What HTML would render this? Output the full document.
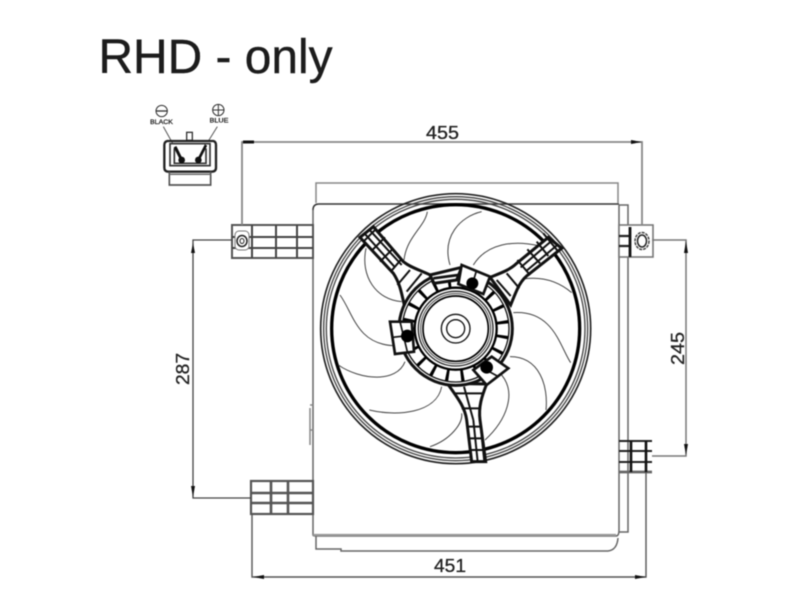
<!DOCTYPE html>
<html><head><meta charset="utf-8"><style>
html,body{margin:0;padding:0;background:#fff;width:800px;height:600px;overflow:hidden}
svg{display:block;filter:blur(.45px)}
text{font-family:"Liberation Sans",sans-serif}
</style></head><body>
<svg width="800" height="600" viewBox="0 0 800 600" xmlns="http://www.w3.org/2000/svg">
<rect width="800" height="600" fill="#fff"/>
<text x="98.500" y="73" font-size="48" fill="#1c1c1c" stroke="#1c1c1c" stroke-width=".4" textLength="234" lengthAdjust="spacingAndGlyphs">RHD - only</text>

<!-- connector -->
<g transform="translate(130,95) scale(.33333)" fill="none" stroke="#333" stroke-width="4">
<circle cx="95" cy="48" r="17" stroke-width="3"/><path d="M78,48H112" stroke-width="4"/>
<circle cx="265" cy="45" r="17" stroke-width="3"/><path d="M248,45H282M265,28V62" stroke-width="3"/>
<path d="M100,95L128,145M262,95L234,140" stroke-width="3" stroke="#555"/>
<rect x="170" y="112" width="17" height="24" stroke-width="4"/>
<path d="M112,138H250Q258,140 258,150V218Q258,230 245,230H115Q103,230 103,218V150Q103,140 112,138Z" stroke-width="7" stroke="#222"/>
<rect x="120" y="146" width="120" height="66" stroke-width="5"/>
<path d="M133,160V205H228V160" stroke-width="5"/>
<path d="M118,230V270H242V230" stroke-width="5" stroke="#555"/>
<path d="M116,238H244" stroke-width="4" stroke="#666"/>
<path d="M135,155L155,195" stroke="#111" stroke-width="9"/>
<path d="M228,150L205,195" stroke="#111" stroke-width="8"/>
<circle cx="155" cy="195" r="10" fill="#111" stroke="none"/>
<circle cx="205" cy="195" r="10" fill="#111" stroke="none"/>
</g>
<text x="161.500" y="124" font-size="6" text-anchor="middle" fill="#111" stroke="#111" stroke-width=".2" textLength="23" lengthAdjust="spacingAndGlyphs">BLACK</text>
<text x="219" y="122.500" font-size="6" text-anchor="middle" fill="#111" stroke="#111" stroke-width=".2" textLength="19" lengthAdjust="spacingAndGlyphs">BLUE</text>

<!-- body -->
<g fill="none" stroke="#666" stroke-width="1.500">
<path d="M316,203V183H618V203" stroke="#888"/>
<path d="M313,210Q313,204 319,204H619" stroke="#333" stroke-width="1.500"/>
<path d="M313,210V535Q313,536 316,536H616Q619,536 619,530V205" stroke-width="1.500"/>
<path d="M313,535H616" stroke="#999" stroke-width="2.200"/>
<path d="M316,536V549H341V551H608Q617,550 618,538" stroke-width="1.500"/>
<path d="M619,205H628V532H619"/>
<path d="M310,405H313M310,445V408M310,430H313" stroke="#888"/>
</g>

<!-- top-left bracket -->
<g fill="none" stroke="#555" stroke-width="2">
<rect x="232" y="225" width="81" height="33" fill="#fff"/>
<path d="M232,237H313M232,248H313M252,225V258M276,225V258M297,225V258" stroke="#444"/>
<rect x="235" y="231" width="14" height="19" rx="4" fill="#fff" stroke="#777" stroke-width="1"/>
<ellipse cx="242" cy="241" rx="5" ry="5.500" stroke="#222" stroke-width="1.500"/>
<ellipse cx="242" cy="241" rx="2" ry="2.500" stroke="#222" stroke-width="1"/>
</g>

<!-- top-right bracket -->
<g fill="none" stroke="#777" stroke-width="1.600">
<rect x="619" y="225" width="34" height="32" fill="#fff"/>
<path d="M619,236H630M619,246H630" stroke="#222" stroke-width="2.200"/>
<path d="M630,227V257" stroke="#111" stroke-width="2.800"/>
<ellipse cx="642" cy="241" rx="7" ry="8.500" stroke="#444" stroke-width="1.500" stroke-dasharray="3 1"/>
<ellipse cx="642" cy="241" rx="4.500" ry="6" stroke="#222" stroke-width="1.500"/>
</g>

<!-- bottom-left bracket -->
<g fill="none" stroke="#555" stroke-width="2.600">
<rect x="251" y="481" width="62" height="33" stroke-width="2.200"/>
<path d="M251,493H313M251,503H313M271,481V514M288,481V514"/>
</g>

<!-- bottom-right bracket -->
<g fill="none" stroke="#222" stroke-width="2">
<path d="M619,441H652M619,451H652M619,462H652" />
<path d="M619,472H652" stroke="#666" stroke-width="2.800"/>
<path d="M631,441V472M646,441V472" stroke="#111" stroke-width="2.600"/>
</g>

<!-- dimensions -->
<g fill="none" stroke="#777" stroke-width="1.300">
<path d="M242,225V142H642V225" stroke-width="1.800" stroke="#888"/>
<path d="M232,240H193V498H251" stroke="#444" stroke-width="1.300"/>
<path d="M652,240H686V456H652" stroke="#777" stroke-width="1.500"/>
<path d="M252,514V577H646V472" stroke="#555" stroke-width="1.400"/>
</g>
<g fill="#111">
<path d="M243,140.500H254V143.500H243Z"/>
<path d="M642,142L631,140V144Z"/>
<path d="M193,243L191,253H195Z"/>
<path d="M193,497L191,486H195Z"/>
<path d="M686,241L684,253H688Z"/>
<path d="M686,455L684,444H688Z"/>
<path d="M253,577L264,575V579Z"/>
<path d="M646,577L635,575V579Z"/>
</g>
<g fill="#222" stroke="#222" stroke-width=".3" font-size="18">
<text x="426" y="139" textLength="33" lengthAdjust="spacingAndGlyphs">455</text>
<text x="434" y="572" textLength="32" lengthAdjust="spacingAndGlyphs">451</text>
<text transform="translate(189,385) rotate(-90)" textLength="32" lengthAdjust="spacingAndGlyphs">287</text>
<text transform="translate(684,365) rotate(-90)" textLength="33" lengthAdjust="spacingAndGlyphs">245</text>
</g>

<!-- fan (coords in 3x zoom frame) -->
<g transform="translate(310,180) scale(.33333)" fill="none" stroke="#111">
<circle cx="437" cy="446" r="405" stroke="#222" stroke-width="5"/>
<circle cx="437" cy="446" r="396" stroke="#444" stroke-width="4"/>
<circle cx="437" cy="446" r="388" stroke="#444" stroke-width="4"/>
<circle cx="437" cy="446" r="372" stroke="#000" stroke-width="10"/>

<g stroke="#444" stroke-width="3">
<path d="M352,95C345,140 290,170 282,240"/>
<path d="M515,95C450,110 395,170 420,255"/>
<path d="M685,197C610,180 530,190 490,255"/>
<path d="M785,338C740,300 690,290 640,297"/>
<path d="M782,548C750,500 730,390 610,398"/>
<path d="M708,690C715,620 690,530 600,530"/>
<path d="M525,780C590,720 620,640 575,585"/>
<path d="M360,800C420,780 460,730 455,700"/>
<path d="M178,690C260,710 380,700 395,620"/>
<path d="M85,555C150,600 260,610 285,545"/>
<path d="M90,345C130,400 140,490 248,497"/>
<path d="M168,205C150,290 200,360 275,365"/>
</g>

<!-- spokes -->
<g stroke-width="9" fill="#fff">
<path d="M150,172L250,280C270,310 275,340 285,385L365,300L365,287C330,270 300,262 280,245L190,140Z"/>
<path d="M715,172L620,250C600,270 570,280 540,292L602,375C620,330 630,300 660,280L755,205Z"/>
<path d="M412,610C440,650 465,680 470,720L485,845H527L510,720C505,680 515,650 530,612Z"/>
</g>
<g stroke-width="6">
<path d="M163,160L255,262M177,148L275,255M200,145L160,185M225,172L185,212M250,205L210,245"/>
<path d="M272,240L242,275M300,270L262,315M335,280L290,335"/>
<path d="M728,180L632,262M742,195L650,272M700,160L745,215M680,185L715,228M652,208L690,250"/>
<path d="M622,240L660,285M590,280L628,325M560,300L602,348"/>
<path d="M490,720L503,845M510,720L523,845M475,740H515M478,775H518M482,810H522"/>
<path d="M430,640H520M455,685H512M462,620L490,720"/>
</g>

<!-- hub ring -->
<circle cx="437" cy="446" r="170" fill="#fff" stroke="#111" stroke-width="9"/>
<circle cx="437" cy="446" r="160" stroke="#111" stroke-width="4"/>
<circle cx="437" cy="446" r="141" stroke="#000" stroke-width="36" stroke-dasharray="9 35.300" transform="rotate(8 437 446)"/>
<circle cx="437" cy="446" r="123" fill="#fff" stroke="#000" stroke-width="7"/>
<circle cx="437" cy="446" r="112" stroke="#222" stroke-width="4"/>
<circle cx="437" cy="446" r="105" stroke="#444" stroke-width="3"/>
<circle cx="437" cy="446" r="98" stroke="#000" stroke-width="5"/>
<circle cx="437" cy="446" r="43" stroke="#111" stroke-width="4"/>
<circle cx="437" cy="446" r="27" stroke="#111" stroke-width="4"/>

<!-- top arch & pads -->
<path d="M360,285L455,262L440,300L372,310Z" fill="#fff" stroke-width="9"/>
<path d="M370,295L445,285" stroke-width="8"/>
<path d="M455,255L540,290L520,342L445,312Z" fill="#fff" stroke-width="8"/>
<path d="M240,425L305,425L312,515L255,522Z" fill="#fff" stroke-width="8"/>
<path d="M595,565L530,615L490,570L545,530Z" fill="#fff" stroke-width="8"/>
<path d="M248,472L310,465M270,425L292,515M500,270L485,320M520,565L565,590" stroke-width="5"/>
<circle cx="487" cy="310" r="18" fill="#000" stroke="none"/>
<circle cx="292" cy="468" r="19" fill="#000" stroke="none"/>
<circle cx="530" cy="562" r="19" fill="#000" stroke="none"/>
</g>
</svg>
</body></html>
